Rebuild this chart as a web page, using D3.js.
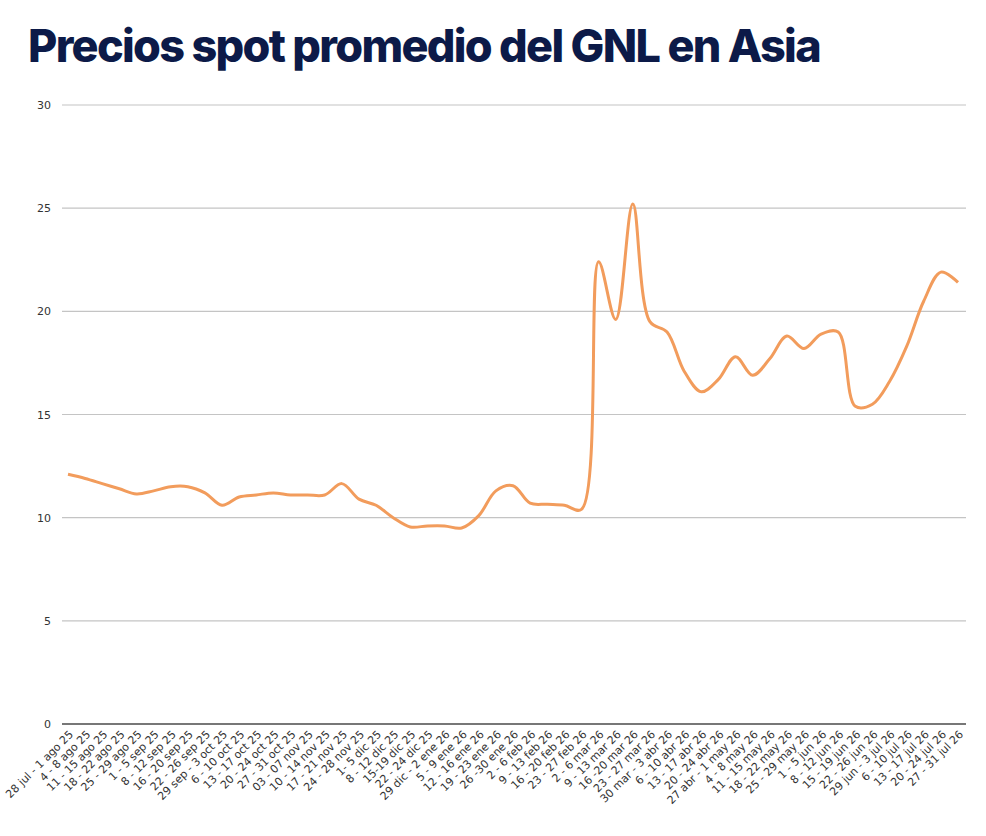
<!DOCTYPE html>
<html><head><meta charset="utf-8">
<script src="https://cdn.jsdelivr.net/npm/d3@7"></script>
<style>body{margin:0;background:#fff;font-family:"DejaVu Sans",Arial,sans-serif}</style>
</head><body>
<svg id="chart" width="986" height="836"></svg>
<script>
// week labels
const weeks = ["28 jul - 1 ago 25","4 - 8 ago 25","11 - 15 ago 25","18 - 22 ago 25","25 - 29 ago 25","1 - 5 sep 25","8 - 12 sep 25","16 - 20 sep 25","22 - 26 sep 25","29 sep - 3 oct 25","6 - 10 oct 25","13 - 17 oct 25","20 - 24 oct 25","27 - 31 oct 25","03 - 07 nov 25","10 - 14 nov 25","17 - 21 nov 25","24 - 28 nov 25","1- 5 dic 25","8 - 12 dic 25","15-19 dic 25","22 - 24 dic 25","29 dic - 2 ene 26","5 - 9 ene 26","12 - 16 ene 26","19 - 23 ene 26","26 -30 ene 26","2 - 6 feb 26","9 - 13 feb 26","16 - 20 feb 26","23 - 27 feb 26","2 - 6 mar 26","9 - 13 mar 26","16 -20 mar 26","23 - 27 mar 26","30 mar - 3 abr 26","6 - 10 abr 26","13 - 17 abr 26","20 - 24 abr 26","27 abr - 1 may 26","4 - 8 may 26","11 - 15 may 26","18 - 22 may 26","25 - 29 may 26","1 - 5 jun 26","8 - 12 jun 26","15 - 19 jun 26","22 - 26 jun 26","29 jun - 3 jul 26","6 - 10 jul 26","13 - 17 jul 26","20 - 24 jul 26","27 - 31 jul 26"];
// prices
const prices = [12.1,11.9,11.65,11.4,11.15,11.3,11.5,11.5,11.2,10.6,11.0,11.1,11.2,11.1,11.1,11.1,11.65,10.9,10.6,10.0,9.55,9.6,9.6,9.5,10.1,11.3,11.55,10.7,10.65,10.6,10.4,22.4,19.6,25.2,19.5,19.0,17.1,16.1,16.7,17.8,16.9,17.7,18.8,18.2,18.9,19.0,15.4,15.5,16.6,18.3,20.5,21.9,21.4];
const yTicks = [0,5,10,15,20,25,30];

const svg = d3.select("#chart");
const x = d3.scalePoint().domain(weeks).range([68, 958]);
const y = d3.scaleLinear().domain([0, 30]).range([724, 105]);

svg.append("text").attr("x", 28).attr("y", 62)
    .attr("font-family", "Inter").attr("font-weight", 800).attr("font-size", 45)
    .attr("letter-spacing", -1.7).attr("fill", "#0c1a48")
    .text("Precios spot promedio del GNL en Asia");

// grid
svg.append("g").selectAll("line").data(yTicks).join("line")
    .attr("x1", 62).attr("x2", 966)
    .attr("y1", d => y(d)).attr("y2", d => y(d))
    .attr("stroke", d => d === 0 ? "#777" : "#c4c4c4")
    .attr("stroke-width", d => d === 0 ? 2 : 1.2);

svg.append("g").selectAll("text").data(yTicks).join("text")
    .attr("x", 51).attr("y", d => y(d) + 4)
    .attr("text-anchor", "end").attr("font-size", 11).attr("fill", "#333")
    .text(d => d);

// x labels
svg.append("g").selectAll("text").data(weeks).join("text")
    .attr("transform", d => `translate(${x(d) + 6},${735}) rotate(-45)`)
    .attr("text-anchor", "end").attr("font-size", 11).attr("fill", "#333")
    .text(d => d);

// line
svg.append("path").datum(prices)
    .attr("fill", "none").attr("stroke", "#f29c5c").attr("stroke-width", 3)
    .attr("stroke-linejoin", "round")
    .attr("d", d3.line().x((d, i) => x(weeks[i])).y(d => y(d)).curve(d3.curveCatmullRom.alpha(0.5)));
</script>
</body></html>
